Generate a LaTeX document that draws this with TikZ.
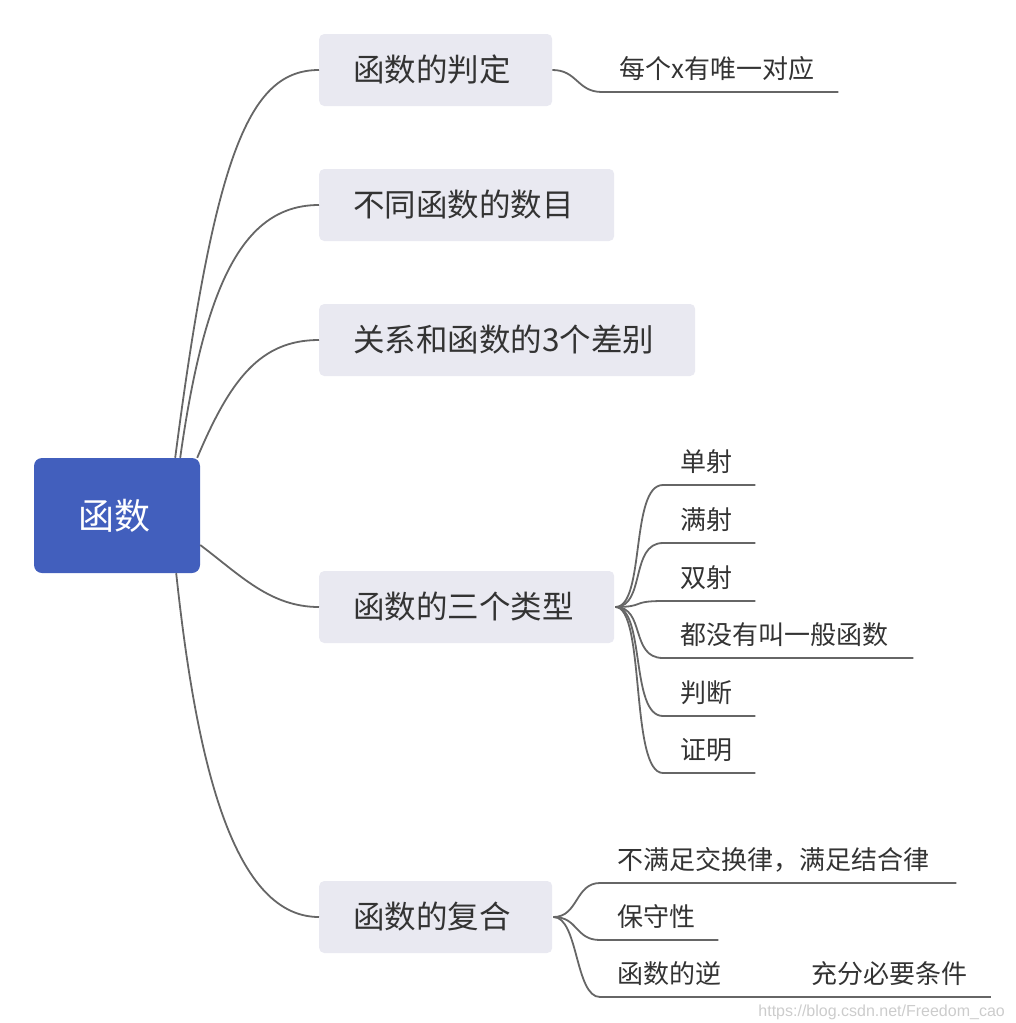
\documentclass[tikz,border=0pt]{standalone}
\usepackage{fontspec}
\setmainfont{Noto Sans CJK SC}
\newfontfamily\wmfont{Liberation Sans}
\usepackage{tikz}
\usetikzlibrary{positioning}
\definecolor{rootblue}{HTML}{425FBD}
\definecolor{topicgray}{HTML}{E9E9F1}
\definecolor{inkgray}{HTML}{333333}
\definecolor{linegray}{HTML}{666666}

\begin{document}
\begin{tikzpicture}[
x=1pt, y=-1pt,
rootbox/.style={fill=rootblue, rounded corners=8pt, minimum width=166pt, minimum height=115pt,
  text=white, font=\fontsize{36}{40}\selectfont},
topic/.style={fill=topicgray, rounded corners=5pt, anchor=west, inner xsep=34pt, inner ysep=0pt,
  minimum height=72pt, align=left, text=inkgray, font=\fontsize{31.5}{36}\selectfont},
leaf/.style={anchor=south west, inner xsep=17pt, inner ysep=8pt, text height=20pt, text depth=5pt,
  align=left, text=inkgray, font=\fontsize{26}{30}\selectfont},
branch/.style={draw=linegray, line width=1.8pt},
watermark/.style={anchor=east, inner sep=0pt, text=gray!40, font=\wmfont\fontsize{16}{18}\selectfont}
]
    % page frame
    \useasboundingbox (0,0) rectangle (1015,1023);

    % root and main topics
    \node[rootbox] (root) at (117,515.5) {\raisebox{-2pt}{\hspace{-6pt}函数}};
    \node[topic, text width=165pt] (judge) at (319,70) {函数的判定};
    \node[topic, text width=227pt] (count) at (319,205) {不同函数的数目};
    \node[topic, text width=308pt] (diff) at (319,340) {关系和函数的3个差别};
    \node[topic, text width=227pt] (types) at (319,607) {函数的三个类型};
    \node[topic, text width=165pt] (comp) at (319,917) {函数的复合};

    \draw[branch] ([xshift=-25pt]root.north east) .. controls +(40,-308) and +(-69,0) .. (judge.west);
    \draw[branch] ([xshift=-20pt]root.north east) .. controls +(25,-178) and +(-74,0) .. (count.west);
    \draw[branch] ([xshift=-3pt]root.north east) .. controls +(33,-78) and +(-59,0) .. (diff.west);
    \draw[branch] ([yshift=-29.5pt]root.east) .. controls +(40,30) and +(-49,0) .. (types.west);
    \draw[branch] ([xshift=-24pt]root.south east) .. controls +(19,177) and +(-89,0) .. (comp.west);

    % leaves
    \node[leaf, text width=202pt] (each) at (602,92) {每个x有唯一对应};

    \node[leaf, text width=58pt] (inj) at (663,485) {单射};
    \node[leaf, text width=58pt] (surj) at (663,543) {满射};
    \node[leaf, text width=58pt] (bij) at (663,601) {双射};
    \node[leaf, text width=216pt] (general) at (663,658) {都没有叫一般函数};
    \node[leaf, text width=58pt] (decide) at (663,716) {判断};
    \node[leaf, text width=58pt] (proof) at (663,773) {证明};

    \node[leaf, text width=322pt] (assoc) at (600,883) {不满足交换律，满足结合律};
    \node[leaf, text width=84pt] (keep) at (600,940) {保守性};
    \node[leaf, text width=160pt] (inv) at (600,997) {函数的逆};
    \node[leaf, text width=162pt, right=0pt of inv.south east, anchor=south west] (cond) {充分必要条件};

    \draw[branch] (judge.east) .. controls +(25,0) and +(-25,0) .. (each.south west) -- (each.south east);

    \foreach \leafname in {inj,surj,bij,general,decide,proof}
        \draw[branch] ([xshift=1pt]types.east) .. controls +(30,0) and +(-33,0) .. (\leafname.south west) -- (\leafname.south east);

    \foreach \leafname in {assoc,keep}
        \draw[branch] ([xshift=1pt]comp.east) .. controls +(25,0) and +(-25,0) .. (\leafname.south west) -- (\leafname.south east);
    \draw[branch] ([xshift=1pt]comp.east) .. controls +(25,0) and +(-25,0) .. (inv.south west) -- (inv.south east) -- (cond.south east);

    % watermark
    \node[watermark] (wm) at (1005,1012) {https://blog.csdn.net/Freedom\_cao};
\end{tikzpicture}
\end{document}
